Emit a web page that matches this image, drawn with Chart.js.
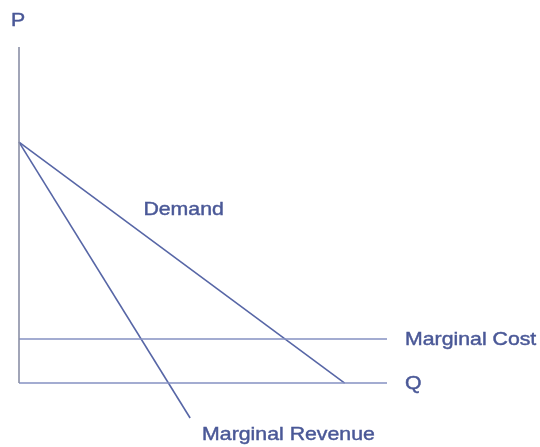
<!DOCTYPE html>
<html>
<head>
<meta charset="utf-8">
<script src="https://cdn.jsdelivr.net/npm/chart.js@4.4.0/dist/chart.umd.min.js"></script>
<style>
    html, body { margin: 0; padding: 0; background: #ffffff; }
    canvas { display: block; }
</style>
</head>
<body>
<canvas id="graphe" width="540" height="447"></canvas>
<script>
//---------------------------DONNEES----------------------------------------------------

const axeQ = [0, 10];          // axe horizontal Q
const axeP = [0, 10];          // axe vertical P
const demandeQ = [0, 8.85];
const demandeP = [7.17, 0];
const recetteQ = [0, 4.65];    // recette marginale (passe sous l'axe)
const recetteP = [7.17, -1.04];
const coutQ = [0, 10];
const coutP = [1.31, 1.31];    // cout marginal constant

const etiquettes = ['P', 'Q', 'Demand', 'Marginal Cost', 'Marginal Revenue'];

//---------------------------------------------------------------------------------

const points = (xs, ys) => xs.map((x, i) => ({ x: x, y: ys[i] }));

const bleu = '#5766a6';
const bleuClair = '#8591c2';
const gris = '#8a8fa6';
const texte = '#4a5897';

// police un peu étirée en largeur comme sur l'image
function ecrire(c, t, px, py, align) {
    c.save();
    c.translate(px, py);
    c.scale(1.12, 1);
    c.textAlign = align;
    c.fillText(t, 0, 0);
    c.strokeText(t, 0, 0); // un peu plus gras
    c.restore();
}

// écrit les étiquettes en se servant des échelles du graphique
const textes = {
    id: 'textes',
    afterDatasetsDraw(chart) {
        const c = chart.ctx;
        const x = chart.scales.x;
        const y = chart.scales.y;
        c.save();
        c.fillStyle = texte;
        c.strokeStyle = texte;
        c.lineWidth = 0.45;
        c.font = '19px "Liberation Sans", Arial, sans-serif';
        c.textBaseline = 'middle';

        ecrire(c, etiquettes[0], x.getPixelForValue(axeQ[0]) - 1, y.getPixelForValue(axeP[1]) - 26, 'center');
        ecrire(c, etiquettes[1], x.getPixelForValue(axeQ[1]) + 18, y.getPixelForValue(0) + 1, 'left');
        ecrire(c, etiquettes[2], x.getPixelForValue(3.38), y.getPixelForValue(5.16), 'left');
        ecrire(c, etiquettes[3], x.getPixelForValue(coutQ[1]) + 18, y.getPixelForValue(coutP[1]) + 1, 'left');
        ecrire(c, etiquettes[4], x.getPixelForValue(recetteQ[1]) + 12, y.getPixelForValue(recetteP[1]) + 17, 'left');
        c.restore();
    }
};

const ctx = document.getElementById('graphe').getContext('2d');

new Chart(ctx, {
    type: 'scatter',
    plugins: [textes],
    data: {
        datasets: [
            { data: points([0, 0], axeP), borderColor: gris },
            { data: points(axeQ, [0, 0]), borderColor: bleuClair },
            { data: points(coutQ, coutP), borderColor: bleuClair },
            { data: points(demandeQ, demandeP), borderColor: bleu },
            { data: points(recetteQ, recetteP), borderColor: bleu }
        ]
    },
    options: {
        responsive: false,
        animation: false,
        layout: {
            padding: { top: 47, bottom: 27, left: 19, right: 153 }
        },
        datasets: {
            scatter: {
                showLine: true,
                borderWidth: 1.6,
                pointRadius: 0,
                clip: false
            }
        },
        scales: {
            x: { type: 'linear', min: 0, max: 10, display: false },
            y: { type: 'linear', min: -1.1, max: 10, display: false }
        },
        plugins: {
            legend: { display: false },
            tooltip: { enabled: false }
        }
    }
});
</script>
</body>
</html>
